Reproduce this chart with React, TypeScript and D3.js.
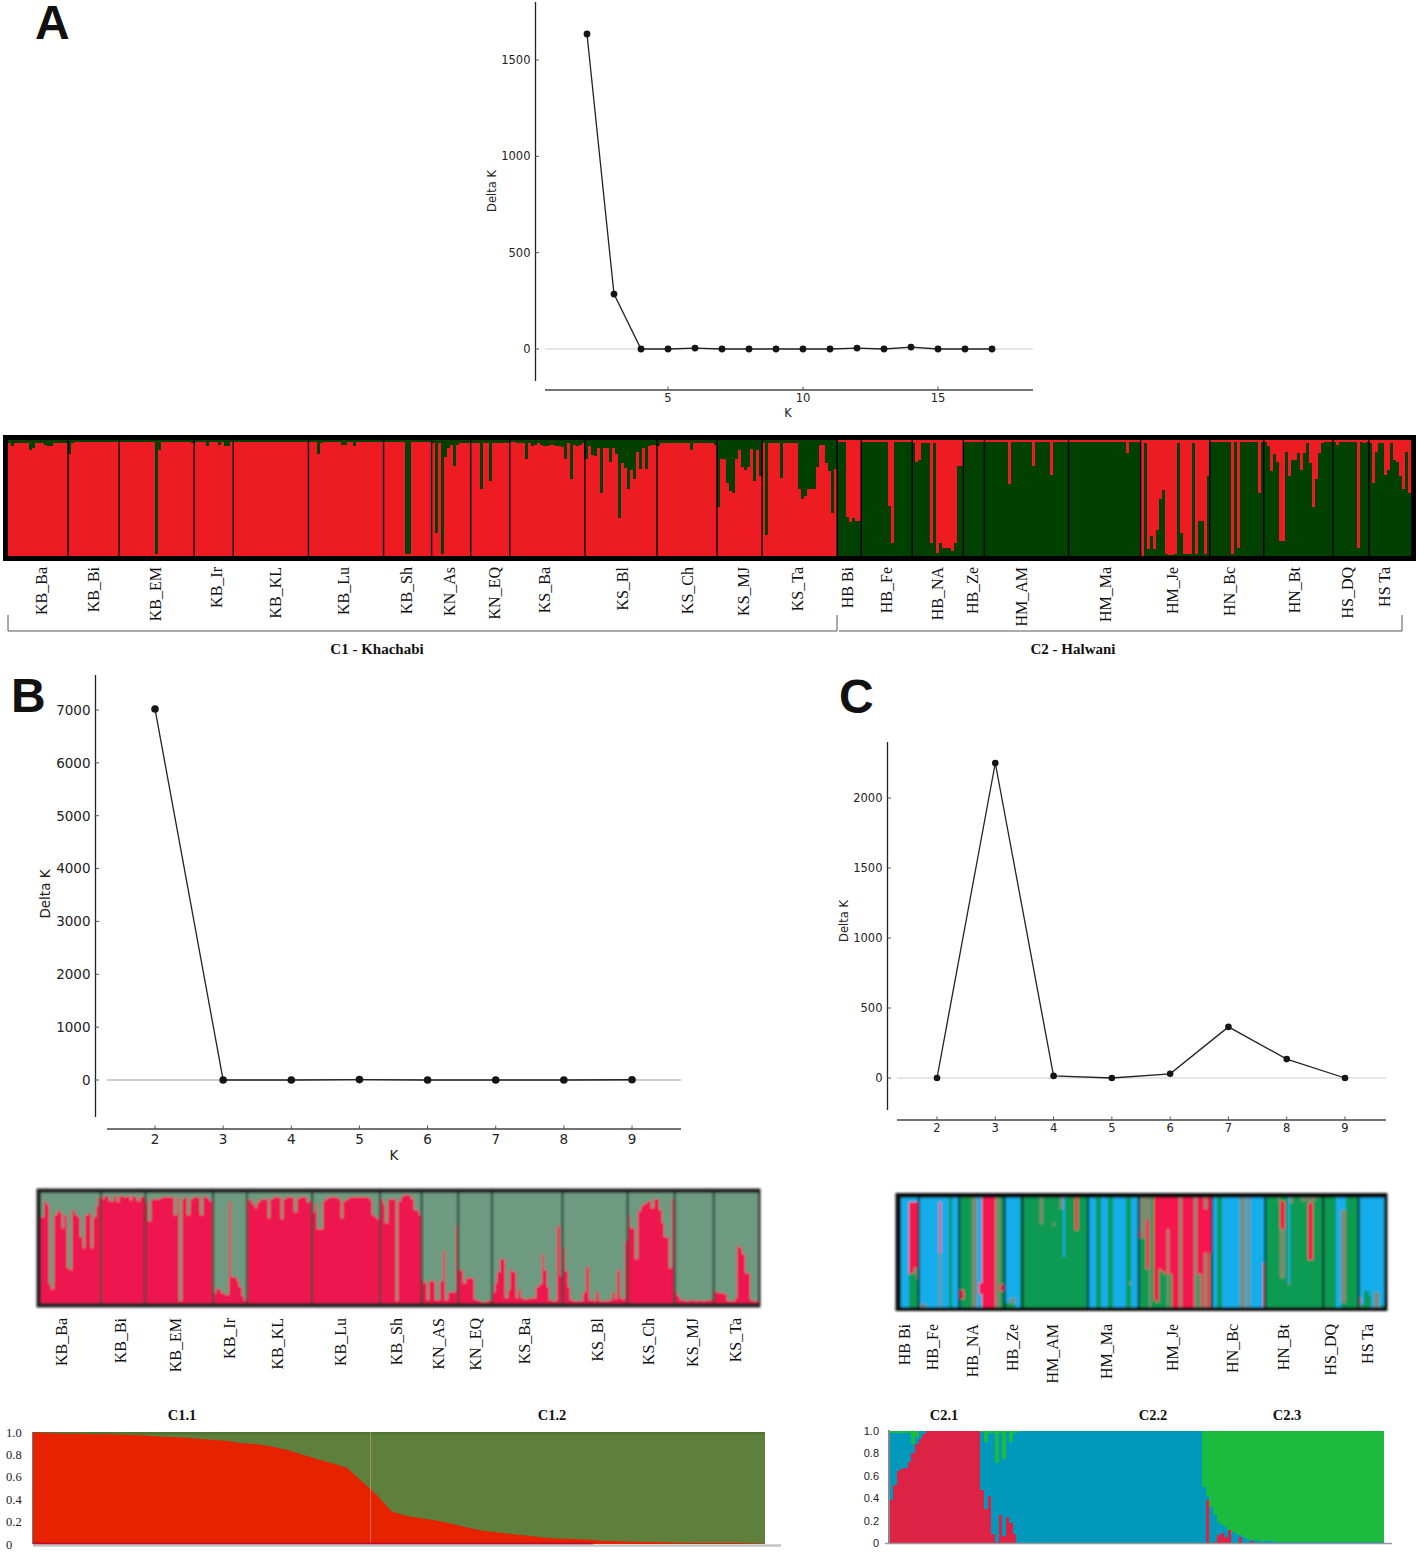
import React from "react";
import * as d3 from "d3";

// Delta K curves
const kA = [2, 3, 4, 5, 6, 7, 8, 9, 10, 11, 12, 13, 14, 15, 16, 17];
const deltaA = [1635, 285, 0, 0, 5, 0, 0, 0, 0, 0, 5, 0, 10, 0, 0, 0];
const kB = [2, 3, 4, 5, 6, 7, 8, 9];
const deltaB = [7020, 0, 0, 8, 0, 0, 0, 5];
const kC = [2, 3, 4, 5, 6, 7, 8, 9];
const deltaC = [0, 2250, 15, 0, 30, 365, 135, 0];

// Structure plot A: share of the bottom colour for each individual
const namesA = ["KB_Ba", "KB_Bi", "KB_EM", "KB_Ir", "KB_KL", "KB_Lu", "KB_Sh", "KN_As", "KN_EQ", "KS_Ba", "KS_Bl", "KS_Ch", "KS_MJ", "KS_Ta", "HB Bi", "HB_Fe", "HB_NA", "HB_Ze", "HM_AM", "HM_Ma", "HM_Je", "HN_Bc", "HN_Bt", "HS_DQ", "HS Ta"];
const c1PopsA = 14; // first 14 have red at the bottom, the rest green
const valuesA: number[][] = [
  [.977, .95, .97, .977, .977, .977, .977, .91, .93, .97, .97, .97, .96, .95, .95, .97, .977, .977, .977, .977],
  [.88, .97, .98, .98, .98, .98, .98, .98, .985, .98, .98, .98, .98, .98, .98, .98, .98],
  [.98, .98, .98, .98, .985, .985, .98, .98, .98, .98, .98, .98, .02, .91, .98, .98, .98, .98, .98, .98, .98, .98, .98, .98, .97],
  [.98, .98, .98, .98, .95, .98, .98, .98, .96, .98, .95, .95, .98],
  [.985, .985, .985, .985, .985, .985, .985, .985, .985, .985, .985, .985, .985, .985, .985, .985, .985, .985, .985, .985, .985, .985, .985, .985, .985],
  [.98, .98, .98, .88, .97, .98, .98, .98, .98, .98, .98, .96, .96, .98, .98, .95, .98, .98, .98, .98, .98, .98, .98, .98, .98],
  [.98, .98, .98, .98, .98, .98, .98, .02, .02, .98, .98, .98, .98, .98, .98, .98],
  [.97, .2, .97, .02, .85, .93, .96, .78, .96, .97, .97, .97, .97],
  [.97, .97, .97, .58, .97, .97, .65, .97, .97, .97, .97, .97, .97],
  [.98, .98, .97, .97, .97, .84, .97, .95, .96, .97, .96, .95, .95, .96, .96, .95, .95, .94, .84, .97, .66, .96, .95, .96, .97],
  [.84, .95, .87, .86, .93, .54, .93, .93, .81, .93, .88, .33, .8, .76, .58, .74, .66, .9, .75, .93, .75, .95, .96, .96],
  [.95, .97, .97, .97, .97, .97, .97, .97, .97, .97, .97, .91, .97, .97, .97, .97, .97, .97, .97, .96],
  [.42, .84, .84, .63, .56, .54, .84, .91, .77, .74, .77, .92, .65, .91, .69],
  [.97, .18, .97, .97, .97, .97, .67, .97, .97, .97, .97, .97, .58, .49, .52, .58, .58, .58, .77, .96, .96, .8, .73, .37, .75],
  [.98, .98, .98, .34, .29, .33, .3, .3],
  [.985, .985, .98, .985, .985, .985, .985, .985, .985, .43, .11, .985, .985, .985, .985, .985, .985],
  [.97, .81, .83, .97, .97, .97, .11, .97, .03, .11, .07, .07, .07, .04, .11, .78, .78],
  [.985, .985, .985, .985, .985, .985, .985],
  [.985, .985, .985, .985, .985, .985, .985, .985, .62, .985, .985, .985, .985, .985, .985, .985, .78, .985, .985, .985, .985, .985, .7, .985, .985, .985, .985, .985],
  [.985, .985, .985, .985, .985, .985, .985, .985, .985, .985, .985, .985, .985, .985, .985, .985, .985, .985, .985, .89, .985, .985, .985, .985],
  [0, .97, .06, .17, .06, .22, .49, .57, .02, .005, .01, .02, .97, .2, .02, .02, .02, .97, .02, .3, .3, .02, .69],
  [.985, .985, .985, .985, .985, .985, .985, .02, .985, .07, .985, .985, .985, .985, .985, .985, .54, .985],
  [.985, .95, .73, .88, .81, .13, .13, .9, .69, .83, .83, .89, .74, .89, .97, .8, .42, .66, .89, .97, .985, .985, .985],
  [.985, .96, .985, .985, .985, .985, .985, .985, .07, .985, .97, .985],
  [.97, .63, .9, .97, .97, .7, .74, .97, .83, .81, .69, .58, .9, .54],
];

// Structure plot B: share of red at the bottom
const namesB = ["KB_Ba", "KB_Bi", "KB_EM", "KB_Ir", "KB_KL", "KB_Lu", "KB_Sh", "KN_AS", "KN_EQ", "KS_Ba", "KS_Bl", "KS_Ch", "KS_MJ", "KS_Ta"];
const valuesB: number[][] = [
  [.78, .93, .9, .17, .13, .8, .85, .83, .68, .8, .32, .3, .85, .8, .78, .6, .5, .8, .82, .5, .78, .88, .96],
  [.95, .97, .97, .93, .93, .97, .92, .97, .97, .96, .97, .94, .97, .96, .93, .96, .97],
  [.92, .75, .95, .95, .95, .95, .96, .96, .96, .96, .96, .8, .96, .02, .95, .96, .8, .94, .96, .96, .96, .8, .97, .96, .95, .93],
  [.09, .14, .13, .09, .08, .07, .92, .24, .24, .2, .15, .06, .03],
  [.94, .95, .9, .86, .92, .95, .95, .95, .77, .95, .96, .96, .96, .76, .95, .96, .96, .96, .83, .95, .96, .96, .96, .92, .94],
  [.83, .9, .67, .67, .93, .95, .96, .96, .96, .96, .95, .77, .93, .95, .96, .96, .96, .96, .96, .96, .96, .96, .94, .8, .78, .76],
  [.95, .9, .73, .95, .95, .95, .02, .93, .96, .98, .98, .98, .95, .85, .85, .8],
  [.21, .18, .03, .2, .2, .03, .03, .2, .47, .03, .1, .1, .1, .71],
  [.3, .3, .18, .23, .23, .23, .04, .03, .02, .01, .01, .02, .03],
  [.1, .18, .28, .4, .4, .05, .12, .3, .28, .05, .12, .05, .04, .04, .05, .05, .05, .15, .17, .45, .3, .15, .03, .02, .02, .7, .25],
  [.5, .29, .15, .03, .02, .02, .02, .02, .1, .33, .03, .03, .02, .1, .02, .02, .02, .02, .03, .09, .04, .3, .05, .04, .56],
  [.79, .68, .68, .4, .84, .88, .9, .92, .93, .86, .95, .95, .85, .73, .6, .6, .32, .95],
  [.1, .06, .03, .03, .02, .02, .03, .03, .02, .03, .02, .02, .03, .03, .03],
  [.11, .1, .09, .09, .08, .02, .02, .02, .05, .52, .5, .45, .27, .27, .03, .02, .02],
];

// Structure plot C: bottom-to-top segments, letter + share, no share = the rest
const namesC = ["HB Bi", "HB_Fe", "HB_NA", "HB_Ze", "HM_AM", "HM_Ma", "HM_Je", "HN_Bc", "HN_Bt", "HS_DQ", "HS Ta"];
const valuesC: string[][] = [
  ["b", "b", "b", "g.3 r.66 b", "g.31 r.65 b", "g.3 m.06 r.6 b", "g.26 m.1 r.6 b"],
  ["b", "m.04 b", "m.03 b", "b", "b", "b", "b", "b", "m.5 r.46 b", "b", "b", "b", "g", "b", "b", "b"],
  ["g.07 r.09 g", "g.07 r.09 g", "g", "g", "g", "m", "m", "b", "b.12 r.1 b", "r", "r", "r", "r", "r", "m", "m", "g.15 r.05 g", "g.15 r.06 g"],
  ["g.04 b", "g.04 b", "g.03 m.05 b", "g.03 m.05 b", "b", "b", "g"],
  ["g", "g", "g", "g", "g", "g", "g", "g.76 m", "g", "g", "g", "g", "g.74 m.03 g", "g", "g", "g.9 m", "g.46 b", "g", "g", "g", "g", "g.71 r", "g", "g", "g", "g"],
  ["b", "b", "b", "g", "g", "b", "b", "b", "g", "g", "b", "b", "b", "b", "b", "g", "g.2 m.03 g", "b", "b", "b"],
  ["g.63 r.07 m", "g.63 m", "g.63 m", "g.35 r.45 m", "m", "g", "g.06 r", "g.05 r", "g.35 r", "g.33 r", "g.3 r", "m.72 r", "g.3 r", "r", "r", "r", "m", "r", "r", "r", "r", "r", "m", "g.3 r", "m.3 r", "r", "m.5 r.4 m", "r", "g.5 r"],
  ["b", "b", "g", "g", "b", "b", "b", "b", "b", "b", "b", "m", "m", "b", "m", "b", "b", "b", "b", "b", "r.4 b"],
  ["g", "g", "g", "g", "g", "g.97 m", "g.27 m.45 r.25 g", "g.27 m.45 r.25 g", "g", "g.2 m.02 b", "g.95 m", "g", "g", "g", "g.97 m", "g.97 m", "g", "g.43 r.52 m", "g.43 r.52 m", "g.97 m", "g", "g", "g"],
  ["g", "g", "g", "g", "g", "b", "b", "g.04 m.85 b", "g.04 m.85 b", "g", "g", "g", "g", "g"],
  ["m.05 r.03 b", "g.02 b", "g.15 b", "g.15 b", "g.1 b", "b", "m.14 b", "m.14 b", "b", "g.02 b"],
];

// Sorted Q plot C1: red share along the individuals
const c1Red = [.995, .99, .985, .985, .98, .98, .975, .97, .965, .955, .95, .94, .93, .92, .9, .89, .87, .84, .8, .76, .72, .68, .56, .44, .29, .25, .23, .21, .18, .15, .12, .105, .09, .075, .06, .05, .045, .04, .03, .025, .02, .018, .015, .012, .01, .01, .01, .008, .005, .003];

// Sorted Q plot C2, as runs of [count, share]
const c2RedRuns: [number, number][] = [[1, .38], [1, .52], [1, .64], [1, .66], [1, .67], [1, .72], [1, .8], [1, .88], [1, .93], [1, .97], [15, 1], [1, .47], [1, .3], [1, .42], [1, .08], [1, .01], [1, .25], [1, .06], [1, .23], [1, .18], [1, .08], [52, 0], [1, .38], [1, 0], [1, .01], [1, .07], [1, .09], [1, .05], [1, .12], [2, 0], [1, .05], [2, 0], [1, .02], [36, 0]];
const c2GreenRuns: [number, number][] = [[6, .02], [1, .12], [1, .05], [17, 0], [1, .01], [1, .1], [1, .02], [1, .02], [1, .29], [1, .02], [1, .25], [1, .01], [1, .1], [1, .02], [1, .01], [50, 0], [1, .5], [1, .58], [1, .68], [1, .75], [1, .81], [1, .84], [1, .86], [1, .88], [1, .9], [1, .92], [1, .93], [1, .95], [1, .96], [1, .97], [1, .975], [3, .98], [2, .985], [2, .99], [28, .995]];

// Text positions and colours
const labelXA = [42, 94, 156, 217, 276, 344, 407, 450, 495, 545, 623, 688, 744, 798, 848, 887, 938, 973, 1022, 1106, 1173, 1230, 1295, 1348, 1385];
const labelXB = [62, 121, 176, 230, 278, 341, 397, 439, 476, 525, 598, 649, 693, 736];
const labelXC = [905, 933, 973, 1013, 1053, 1107, 1173, 1233, 1284, 1331, 1368];
const colorsA = { r: "#ed1c24", g: "#033f06" };
const colorsB = { r: "#ee1650", g: "#6d9a80" };
const colorsC = { r: "#f5164f", g: "#0a9a52", b: "#12aeea", m: "#7f8a72" };

const serif = "'Liberation Serif', serif";
const sans = "'DejaVu Sans', sans-serif";
const arial = "'Liberation Sans', sans-serif";

type Seg = { key: string; share: number };

const parseBar = (text: string): Seg[] => {
  let left = 1;
  return text.split(" ").map((part) => {
    const share = part.length > 1 ? +part.slice(1) : left;
    left -= share;
    return { key: part[0], share };
  });
};

const expandRuns = (runs: [number, number][]) =>
  runs.flatMap(([count, share]) => d3.range(count).map(() => share));

const DeltaK = ({ ks, values, xDom, xRange, yDom, yRange, yTicks, xTicks, axisX, axisY, axisTop, axisBottom, xAxis, zero, font, r, yName, xName, labelGap }: any) => {
  const x = d3.scaleLinear().domain(xDom).range(xRange);
  const y = d3.scaleLinear().domain(yDom).range(yRange);
  const line = d3.line<number>().x((_, i) => x(ks[i])).y((d) => y(d));
  return (
    <g fontFamily={sans} fontSize={font} fill="#222">
      <line x1={xAxis[0]} x2={xAxis[1]} y1={y(0)} y2={y(0)} stroke={zero} strokeWidth={1} />
      <line x1={axisX} x2={axisX} y1={axisTop} y2={axisBottom} stroke="#222" strokeWidth={1.3} />
      <line x1={xAxis[0]} x2={xAxis[1]} y1={axisY} y2={axisY} stroke="#444" strokeWidth={1.4} />
      {yTicks.map((t: number) => (
        <g key={t}>
          <line x1={axisX} x2={axisX + 3.5} y1={y(t)} y2={y(t)} stroke="#555" />
          <text x={axisX - 5} y={y(t)} dy="0.36em" textAnchor="end">{t}</text>
        </g>
      ))}
      {xTicks.map((t: number) => (
        <g key={t}>
          <line x1={x(t)} x2={x(t)} y1={axisY} y2={axisY - 3.5} stroke="#555" />
          <text x={x(t)} y={axisY + labelGap} textAnchor="middle">{t}</text>
        </g>
      ))}
      <path d={line(values) as string} fill="none" stroke="#222" strokeWidth={1.3} />
      {values.map((v: number, i: number) => (
        <circle key={i} cx={x(ks[i])} cy={y(v)} r={r} fill="#151515" />
      ))}
      <text transform={`translate(${yName[0]},${yName[1]}) rotate(-90)`} textAnchor="middle" fontSize={yName[2]}>Delta K</text>
      {xName && <text x={xName[0]} y={xName[1]} textAnchor="middle">K</text>}
    </g>
  );
};

const Structure = ({ bars, x0, x1, y0, y1, colors, sep, sepWidth }: any) => {
  const flat = bars.flat();
  const x = d3.scaleBand<number>().domain(d3.range(flat.length)).range([x0, x1]);
  const y = d3.scaleLinear().domain([0, 1]).range([y1, y0]);
  const starts = d3.cumsum(bars.map((p: any[]) => p.length)) as unknown as number[];
  return (
    <g>
      <g shapeRendering="crispEdges">
        {flat.map((segs: Seg[], i: number) => {
          let acc = 0;
          return segs.map((s, j) => {
            const from = acc;
            acc += s.share;
            const top = j === segs.length - 1 ? 1 : acc;
            return <rect key={`${i}-${j}`} x={x(i)} width={x.bandwidth() + 0.4} y={y(top)} height={y(from) - y(top)} fill={colors[s.key]} />;
          });
        })}
      </g>
      {Array.from(starts).slice(0, -1).map((s: number) => (
        <line key={s} x1={x(s)} x2={x(s)} y1={y0} y2={y1} stroke={sep} strokeWidth={sepWidth} />
      ))}
    </g>
  );
};

const PopLabels = ({ names, xs, top, size }: any) => (
  <g fontFamily={serif} fontSize={size} fill="#111">
    {names.map((n: string, i: number) => (
      <text key={i} transform={`translate(${xs[i] + 5},${top}) rotate(-90)`} textAnchor="end">{n}</text>
    ))}
  </g>
);

const App = () => {
  const barsA = valuesA.map((pop, p) =>
    pop.map((v): Seg[] =>
      p < c1PopsA
        ? [{ key: "r", share: v }, { key: "g", share: 1 - v }]
        : [{ key: "g", share: v }, { key: "r", share: 1 - v }]
    )
  );
  const barsB = valuesB.map((pop) =>
    pop.map((v): Seg[] => [{ key: "r", share: v }, { key: "g", share: 1 - v }])
  );
  const barsC = valuesC.map((pop) => pop.map(parseBar));

  // sorted plot C1
  const c1x = d3.scaleLinear().domain([0, c1Red.length - 1]).range([33, 765]);
  const c1y = d3.scaleLinear().domain([0, 1]).range([1544, 1432]);
  const c1Area = d3.area<number>().x((_, i) => c1x(i)).y0(c1y(0)).y1((d) => c1y(d));

  // sorted plot C2
  const c2Red = expandRuns(c2RedRuns);
  const c2Green = expandRuns(c2GreenRuns);
  const c2Rows = c2Red.map((red, i) => ({ red, blue: Math.max(0, 1 - red - c2Green[i]), green: c2Green[i] }));
  const c2Stack = d3.stack<any>().keys(["red", "blue", "green"])(c2Rows);
  const c2x = d3.scaleBand<number>().domain(d3.range(c2Rows.length)).range([889, 1384]);
  const c2y = d3.scaleLinear().domain([0, 1]).range([1543, 1431]);
  const c2Colors: Record<string, string> = { red: "#dc2044", blue: "#0099bb", green: "#1dbb3f" };

  const qTicks = [0, 0.2, 0.4, 0.6, 0.8, 1];

  return (
    <svg width={1418} height={1552} style={{ position: "absolute", left: 0, top: 0, display: "block" }}>
      <defs>
        <filter id="soft" x="-2%" y="-5%" width="104%" height="110%"><feGaussianBlur stdDeviation="0.8" /></filter>
        <filter id="softer" x="-2%" y="-5%" width="104%" height="110%"><feGaussianBlur stdDeviation="0.35" /></filter>
      </defs>
      <rect width={1418} height={1552} fill="#fff" />

      <g fontFamily={arial} fontWeight="bold" fontSize={48} fill="#111">
        <text x={35} y={39}>A</text>
        <text x={11} y={712}>B</text>
        <text x={839} y={713}>C</text>
      </g>

      <DeltaK ks={kA} values={deltaA} xDom={[5, 15]} xRange={[668, 938]} yDom={[0, 1500]} yRange={[349, 60]}
        yTicks={[0, 500, 1000, 1500]} xTicks={[5, 10, 15]} axisX={535.5} axisY={390} axisTop={2} axisBottom={381}
        xAxis={[545, 1033]} zero="#ccc" font={11.5} r={3.4} yName={[496, 191, 11.5]} xName={[788, 417]} labelGap={12} />
      <DeltaK ks={kB} values={deltaB} xDom={[2, 9]} xRange={[155, 632]} yDom={[0, 7000]} yRange={[1080, 710]}
        yTicks={[0, 1000, 2000, 3000, 4000, 5000, 6000, 7000]} xTicks={kB} axisX={95.5} axisY={1129} axisTop={675} axisBottom={1117}
        xAxis={[107, 681]} zero="#999" font={13.5} r={3.8} yName={[50, 894, 13.5]} xName={[394, 1160]} labelGap={15} />
      <DeltaK ks={kC} values={deltaC} xDom={[2, 9]} xRange={[937, 1345]} yDom={[0, 2000]} yRange={[1078, 798]}
        yTicks={[0, 500, 1000, 1500, 2000]} xTicks={kC} axisX={887.5} axisY={1120} axisTop={742} axisBottom={1110}
        xAxis={[897, 1386]} zero="#ccc" font={11.5} r={3.3} yName={[848, 921, 11.5]} labelGap={12} />

      {/* panel A structure */}
      <g filter="url(#softer)">
        <rect x={5.5} y={437.5} width={1408} height={121} fill="#000" stroke="#000" strokeWidth={5} />
        <Structure bars={barsA} x0={8} x1={1411} y0={440} y1={556} colors={colorsA} sep="#000" sepWidth={1.4} />
      </g>
      <PopLabels names={namesA} xs={labelXA} top={567} size={16} />
      <path d="M8,615V631H837V615M839,631H1402V615" fill="none" stroke="#555" strokeWidth={1} />
      <g fontFamily={serif} fontWeight="bold" fontSize={15} fill="#111" textAnchor="middle">
        <text x={377} y={654}>C1 - Khachabi</text>
        <text x={1073} y={654}>C2 - Halwani</text>
      </g>

      {/* panel B structure */}
      <g filter="url(#soft)">
        <rect x={38.5} y={1190.5} width={720} height={115} fill="#222" stroke="#222" strokeWidth={4} />
        <Structure bars={barsB} x0={41} x1={758} y0={1193} y1={1303} colors={colorsB} sep="#24403a" sepWidth={2} />
      </g>
      <PopLabels names={namesB} xs={labelXB} top={1318} size={16} />

      {/* panel C structure */}
      <g filter="url(#soft)">
        <rect x={898} y={1195.5} width={487} height={113} fill="#111" stroke="#111" strokeWidth={5} />
        <Structure bars={barsC} x0={901} x1={1384} y0={1198} y1={1307} colors={colorsC} sep="#0b2a2c" sepWidth={2} />
      </g>
      <PopLabels names={namesC} xs={labelXC} top={1324} size={16} />

      {/* sorted plot C1 */}
      <g filter="url(#softer)">
        <rect x={33} y={c1y(1)} width={732} height={c1y(0) - c1y(1)} fill="#5e7f3d" />
        <rect x={33} y={c1y(1)} width={732} height={2.5} fill="#4f7530" />
        <path d={c1Area(c1Red) as string} fill="#e62000" />
        <line x1={c1x(22.6)} x2={c1x(22.6)} y1={c1y(1)} y2={c1y(0)} stroke="#d9a08a" strokeOpacity={0.6} />
        <rect x={33} y={c1y(0) - 1.5} width={560} height={2.5} fill="#c00a2a" />
        <line x1={33} x2={781} y1={c1y(0) + 1.5} y2={c1y(0) + 1.5} stroke="#c4c4c4" strokeWidth={2.5} />
        <line x1={32.5} x2={32.5} y1={c1y(1)} y2={c1y(0)} stroke="#777" />
      </g>
      <g fontFamily={serif} fontSize={12.5} fill="#222">
        {qTicks.map((t) => (
          <text key={t} x={6} y={c1y(t)} dy="0.36em">{t === 0 ? "0" : t === 1 ? "1.0" : t.toFixed(1)}</text>
        ))}
      </g>
      <g fontFamily={serif} fontWeight="bold" fontSize={14.5} fill="#111" textAnchor="middle">
        <text x={182} y={1420}>C1.1</text>
        <text x={552} y={1420}>C1.2</text>
        <text x={944} y={1420}>C2.1</text>
        <text x={1153} y={1420}>C2.2</text>
        <text x={1287} y={1420}>C2.3</text>
      </g>

      {/* sorted plot C2 */}
      <g filter="url(#softer)">
        <g shapeRendering="crispEdges">
          {c2Stack.map((layer) =>
            layer.map((d, i) => (
              <rect key={`${layer.key}-${i}`} x={c2x(i)} width={c2x.bandwidth() + 0.4} y={c2y(d[1])} height={Math.max(0, c2y(d[0]) - c2y(d[1]))} fill={c2Colors[layer.key]} />
            ))
          )}
        </g>
        <line x1={885} x2={1392} y1={c2y(0) + 0.5} y2={c2y(0) + 0.5} stroke="#999" strokeWidth={1.5} />
        <line x1={889} x2={889} y1={c2y(1) - 1} y2={c2y(0)} stroke="#888" strokeWidth={2} />
      </g>
      <g fontFamily={arial} fontSize={11} fill="#222" textAnchor="end">
        {qTicks.map((t) => (
          <text key={t} x={879} y={c2y(t)} dy="0.36em">{t === 0 ? "0" : t.toFixed(1)}</text>
        ))}
      </g>
    </svg>
  );
};

export default App;
